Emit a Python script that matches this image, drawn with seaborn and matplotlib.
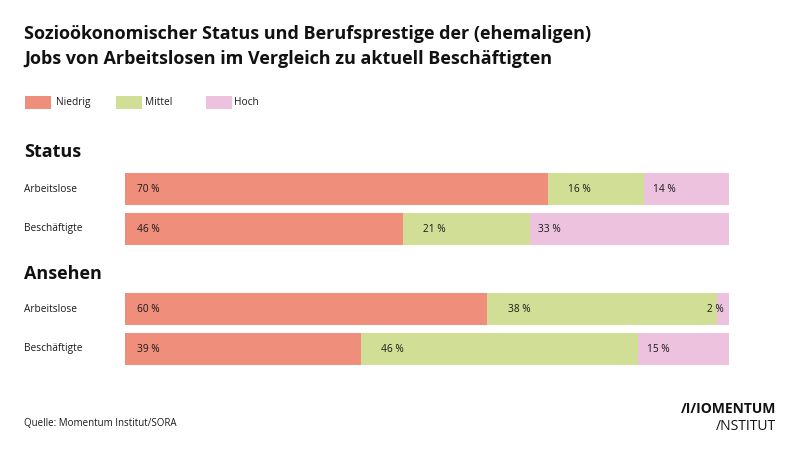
import pandas as pd
import seaborn as sns
import matplotlib.pyplot as plt
from matplotlib.patches import Rectangle
from matplotlib import transforms

# data
groups = ["Arbeitslose", "Beschäftigte"]
levels = ["Niedrig", "Mittel", "Hoch"]
status_niedrig = [70, 46]
status_mittel = [16, 21]
status_hoch = [14, 33]
ansehen_niedrig = [60, 39]
ansehen_mittel = [38, 46]
ansehen_hoch = [2, 15]

colors = {"Niedrig": "#EE8E7B", "Mittel": "#D1DE95", "Hoch": "#EDC2DF"}
label_pad = {"Niedrig": 2.0, "Mittel": 3.4, "Hoch": 1.4}

W, H = 800, 454
FONT = "Open Sans"

sns.set_theme(style="white")
plt.rcParams["font.family"] = [FONT, "DejaVu Sans"]

fig = plt.figure(figsize=(W / 100, H / 100), dpi=100)


def px(x, y):
    return x / W, 1 - y / H


def section(title, niedrig, mittel, hoch, top_px, head_y):
    ax = fig.add_axes([125 / W, 1 - (top_px + 80) / H, 604 / W, 80 / H])
    df = pd.DataFrame({"group": groups, "Niedrig": niedrig,
                       "Mittel": mittel, "Hoch": hoch})
    df["c2"] = df["Niedrig"] + df["Mittel"]
    df["c3"] = df["c2"] + df["Hoch"]
    # stacked bars: draw the cumulative totals from back to front
    sns.barplot(data=df, x="c3", y="group", order=groups, orient="h",
                color=colors["Hoch"], width=0.8, linewidth=0, saturation=1, ax=ax)
    sns.barplot(data=df, x="c2", y="group", order=groups, orient="h",
                color=colors["Mittel"], width=0.8, linewidth=0, saturation=1, ax=ax)
    sns.barplot(data=df, x="Niedrig", y="group", order=groups, orient="h",
                color=colors["Niedrig"], width=0.8, linewidth=0, saturation=1, ax=ax)
    ax.set_xlim(0, 100)
    ax.set_ylim(1.5, -0.5)
    ax.axis("off")

    for i, row in df.iterrows():
        left = 0
        for lev in levels:
            v = row[lev]
            if v < 5:
                ax.text(left + v - 0.8, i, f"{v} %", ha="right", va="center",
                        fontsize=7.3, color="#1a1a1a")
            else:
                ax.text(left + label_pad[lev], i, f"{v} %", ha="left", va="center",
                        fontsize=7.3, color="#1a1a1a")
            left += v

    trans = transforms.blended_transform_factory(fig.transFigure, ax.transData)
    for i, g in enumerate(groups):
        ax.text(24 / W, i, g, transform=trans, ha="left", va="center",
                fontsize=7.3, color="#1a1a1a")

    fig.text(*px(24, head_y), title, ha="left", va="baseline",
             fontsize=13, fontweight="bold", color="#111111")


section("Status", status_niedrig, status_mittel, status_hoch, 169, 157)
section("Ansehen", ansehen_niedrig, ansehen_mittel, ansehen_hoch, 289, 279)

# title
fig.text(*px(24, 39), "Sozioökonomischer Status und Berufsprestige der (ehemaligen)",
         ha="left", va="baseline", fontsize=13, fontweight="bold", color="#111111")
fig.text(*px(24, 64), "Jobs von Arbeitslosen im Vergleich zu aktuell Beschäftigten",
         ha="left", va="baseline", fontsize=13, fontweight="bold", color="#111111")

# legend
for lev, x0, tx in zip(levels, [25, 116, 206], [56, 145, 234]):
    fig.add_artist(Rectangle(px(x0, 109), 26 / W, 13 / H, transform=fig.transFigure,
                             facecolor=colors[lev], edgecolor="none"))
    fig.text(*px(tx, 102.5), lev, ha="left", va="center", fontsize=7.3, color="#1a1a1a")

# source and logo
fig.text(*px(24, 423), "Quelle: Momentum Institut/SORA", ha="left", va="center",
         fontsize=7, color="#1a1a1a")
fig.text(*px(776, 413), "/I/IOMENTUM", ha="right", va="baseline",
         fontsize=10, fontweight="bold", color="#111111")
fig.text(*px(776, 430), "/NSTITUT", ha="right", va="baseline",
         fontsize=10, color="#111111")

fig.savefig("out.png", dpi=100, facecolor="white")
